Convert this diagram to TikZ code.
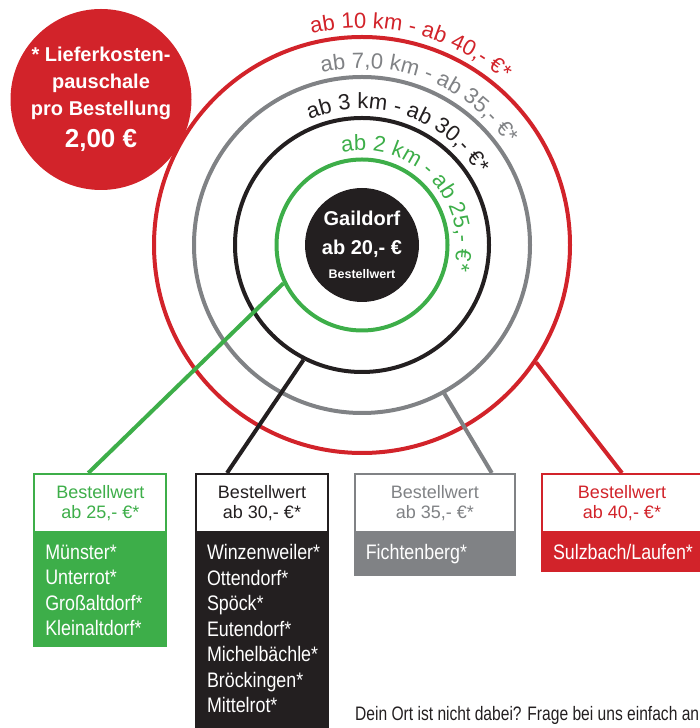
\documentclass[tikz,border=0pt]{standalone}
\usepackage{fontspec}
\setmainfont{Liberation Sans}
\newfontfamily\condfont{Liberation Sans}[FakeStretch=0.85]
\newfontfamily\hintfont{Liberation Sans}[FakeStretch=0.8]
\usetikzlibrary{positioning}
\usetikzlibrary{decorations.text}
\definecolor{cred}{RGB}{210,35,42}
\definecolor{cgreen}{RGB}{61,174,73}
\definecolor{cgray}{RGB}{128,130,133}
\definecolor{cblack}{RGB}{35,31,32}
\newcommand{\ringfont}{\fontsize{22}{26}\selectfont}
\tikzset{
  ring/.style={
    circle,
    draw=#1,
    line width=4pt,
    inner sep=0pt,
  }
}
\tikzset{
  price head/.style={
    rectangle,
    draw=#1,
    line width=2pt,
    fill=white,
    text=#1,
    minimum height=58pt,
    inner sep=0pt,
    align=center,
    font=\fontsize{18}{20.5}\selectfont,
  }
}
\tikzset{
  place list/.style={
    rectangle,
    fill=#1,
    text=white,
    align=left,
    inner xsep=12pt,
    inner ysep=11.5pt,
    font=\condfont\fontsize{21}{25.5}\selectfont,
  }
}
\tikzset{
  link/.style={line width=4pt}
}
\begin{document}
\begin{tikzpicture}[x=1pt, y=1pt]
  \useasboundingbox (0,0) rectangle (699,728);
  \coordinate (mid) at (362,483);

  % distance rings
  \foreach \name/\col/\size in {ring40/cred/416, ring35/cgray/336, ring30/cblack/254, ring25/cgreen/171}{
    \node[ring=\col, minimum size=\size pt] (\name) at (mid) {};
  }

  \node[circle, fill=cblack, text=white, minimum size=114pt, inner sep=0pt,
    align=center, font=\bfseries\fontsize{20}{29}\selectfont]
    (gaildorf) at (mid) {Gaildorf\\ab 20,- €\\[-4.7pt]{\fontsize{12.5}{15}\selectfont Bestellwert}};

  % labels along the rings
  \path[decorate, decoration={text along path, text color=cred,
      text={|\ringfont|ab 10 km - ab 40,- €*}}]
    (mid) ++(103.4:217) arc[start angle=103.4, end angle=-40, radius=217];
  \path[decorate, decoration={text along path, text color=cgray,
      text={|\ringfont|ab 7,0 km - ab 35,- €*}}]
    (mid) ++(103.1:177) arc[start angle=103.1, end angle=-60, radius=177];
  \path[decorate, decoration={text along path, text color=cblack,
      text={|\ringfont|ab 3 km - ab 30,- €*}}]
    (mid) ++(112.6:136) arc[start angle=112.6, end angle=-60, radius=136];
  \path[decorate, decoration={text along path, text color=cgreen,
      text={|\ringfont|ab 2 km - ab 25,- €*}}]
    (mid) ++(102.2:94.5) arc[start angle=102.2, end angle=-120, radius=94.5];

  \node[circle, fill=cred, text=white, minimum size=181pt, inner sep=0pt,
    align=center, font=\bfseries\fontsize{20}{27}\selectfont]
    (badge) at (101,628.5) {* Lieferkosten-\\pauschale\\pro Bestellung\\[5pt]{\fontsize{26}{27}\selectfont 2,00 €}};

  % price boxes
  \node[price head=cgreen, minimum width=132pt] (head25) at (100.3,225) {Bestellwert\\ab 25,- €*};
  \node[place list=cgreen, text width=110pt, below=0pt of head25]
    (list25) {Münster*\\Unterrot*\\Großaltdorf*\\Kleinaltdorf*};

  \node[price head=cblack, minimum width=132pt] (head30) at (262,225) {Bestellwert\\ab 30,- €*};
  \node[place list=cblack, text width=110pt, text depth=163pt, below=0pt of head30]
    (list30) {Winzenweiler*\\Ottendorf*\\Spöck*\\Eutendorf*\\Michelbächle*\\Bröckingen*\\Mittelrot*};

  \node[price head=cgray, minimum width=160pt] (head35) at (434.8,225) {Bestellwert\\ab 35,- €*};
  \node[place list=cgray, text width=138pt, below=0pt of head35] (list35) {Fichtenberg*};

  \node[price head=cred, minimum width=160pt] (head40) at (622,225) {Bestellwert\\ab 40,- €*};
  \node[place list=cred, text width=138pt, below=0pt of head40] (list40) {Sulzbach/Laufen*};

  \foreach \from/\to/\dx/\col in {ring25.206/head25/55/cgreen, ring30.243/head30/32/cblack,
      ring35.299/head35/138/cgray, ring40.326/head40/81/cred}{
    \draw[link, \col] (\from) -- ([xshift=\dx pt]\to.north west);
  }

  \node[anchor=base west, inner sep=0pt, text=cblack, font=\hintfont\fontsize{19.5}{22}\selectfont]
    (hint) at (355,7.3) {Dein Ort ist nicht dabei? Frage bei uns einfach an};
\end{tikzpicture}
\end{document}
